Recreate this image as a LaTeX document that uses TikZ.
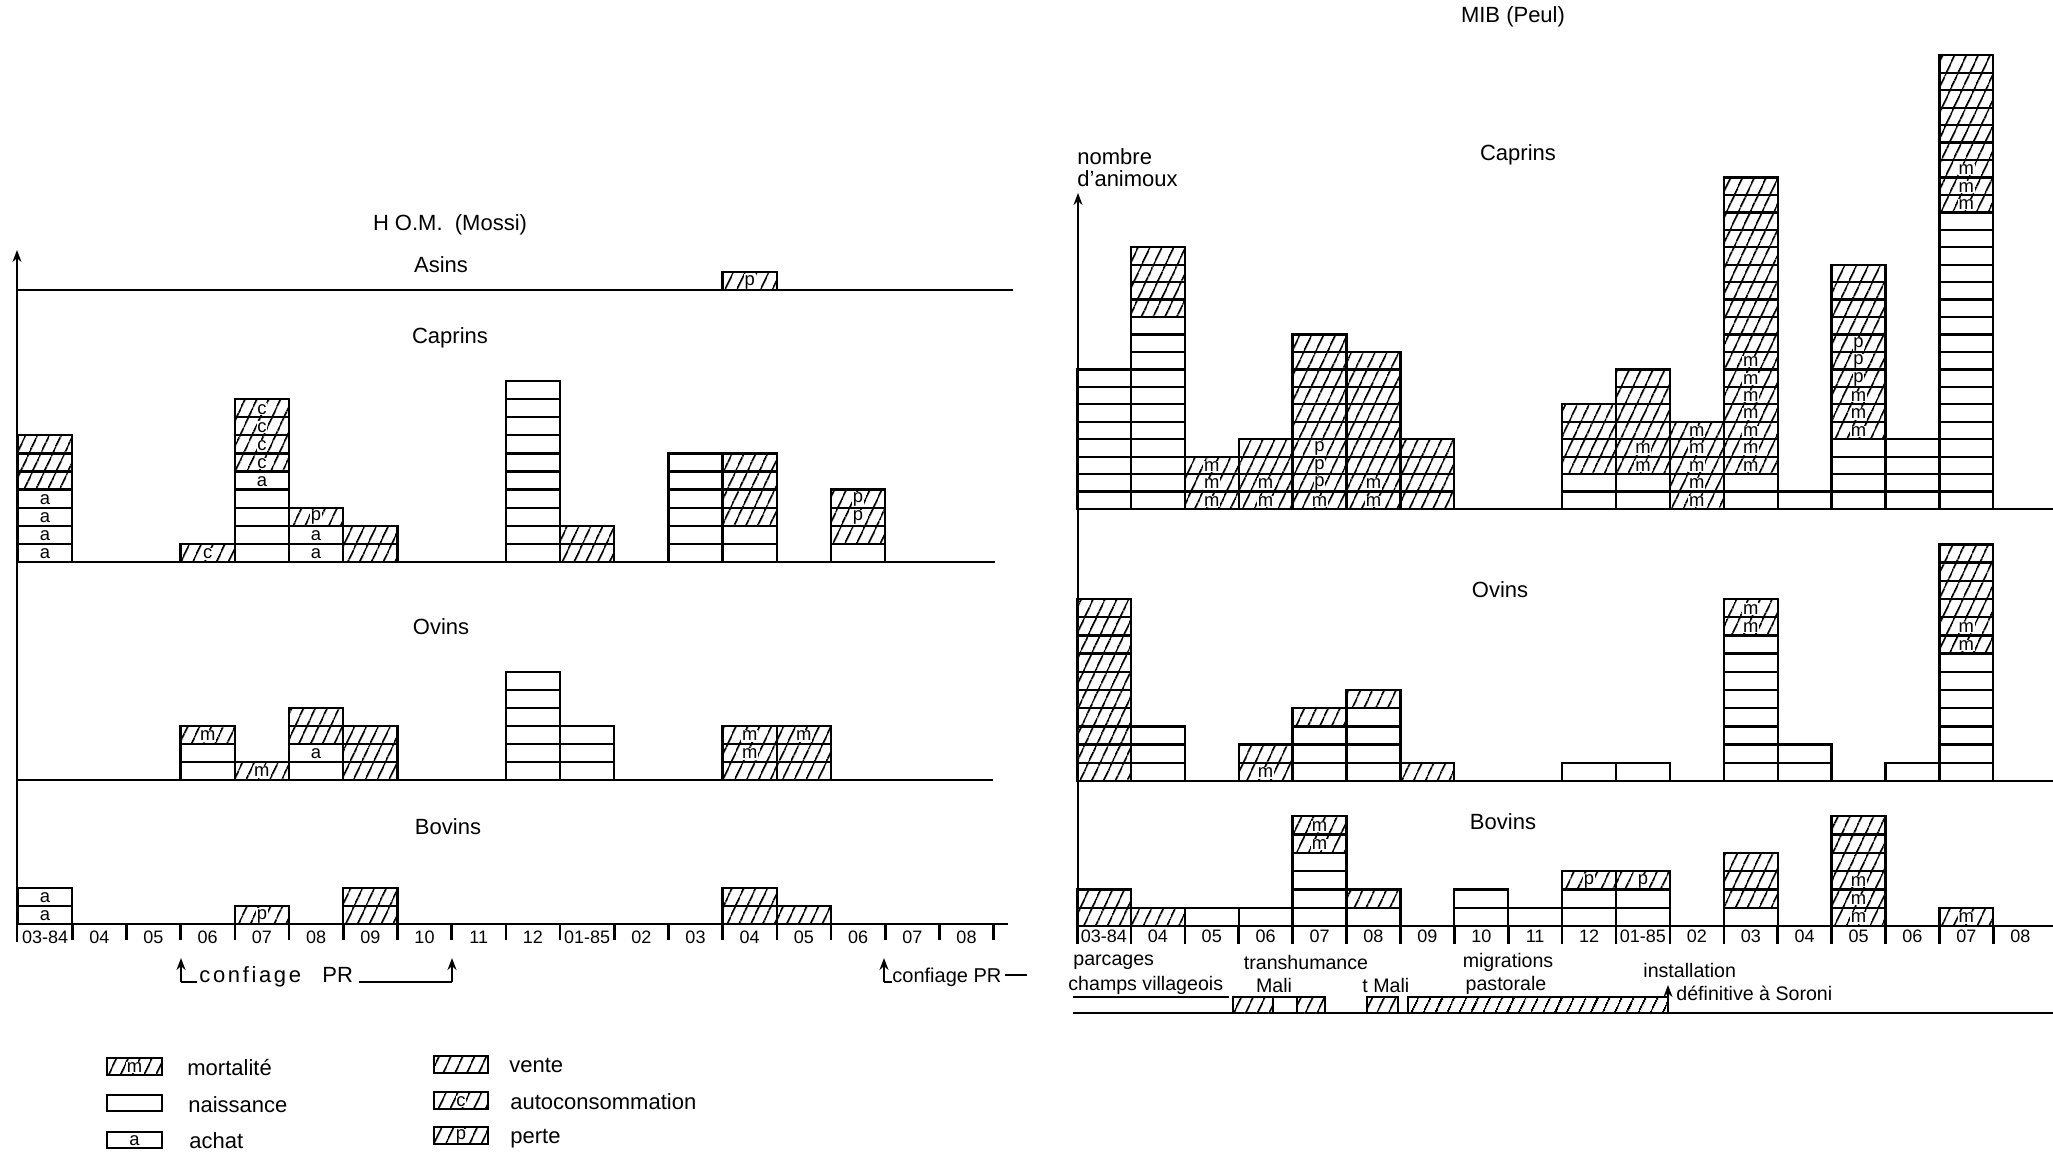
\documentclass[tikz,border=0pt]{standalone}
\usepackage{fontspec}
\setmainfont{Liberation Sans}
\newfontfamily\widefont[LetterSpace=12]{Liberation Sans}
\usetikzlibrary{patterns.meta,arrows.meta}
\tikzset{
  cellbox/.style={draw=black,line width=1.15pt},
  hatch/.style={pattern={Lines[angle=65,distance=5.4pt,line width=0.95pt]}},
  fillh/.style={hatch},
  filln/.style={},
  ltr/.style={inner sep=0.4pt,font=\fontsize{9.2}{9.2}\selectfont},
  ltrh/.style={ltr,fill=white},
  ltrn/.style={ltr},
  lab/.style={font=\fontsize{11}{13}\selectfont,inner sep=0pt},
  capt/.style={font=\fontsize{9.8}{11}\selectfont,inner sep=0pt},
  mon/.style={font=\fontsize{9}{10}\selectfont,inner sep=0pt},
  axisline/.style={line width=1.3pt},
  axisarrow/.style={line width=1.3pt,-{Stealth[length=6pt,width=4.5pt]}},
}
\newcount\ckzcnt
\newcommand\ckzn[4]{\draw[cellbox] (#1,#2) rectangle ++(#3,-#4);}
\newcommand\ckzv[4]{\path[hatch] (#1,#2) rectangle ++(#3,-#4);\draw[cellbox] (#1,#2) rectangle ++(#3,-#4);}
\newcommand\ckzlt[6]{%
  \global\advance\ckzcnt by 1
  \path[fill#6] (#1,#2) rectangle ++(#3,-#4);
  \pgfmathsetmacro\ckzcx{#1+#3/2}\pgfmathsetmacro\ckzcy{#2-#4/2+1}%
  \node[ltr#6] (cell\the\ckzcnt) at (\ckzcx,\ckzcy) {#5};
  \draw[cellbox] (#1,#2) rectangle ++(#3,-#4);}
\newcommand\ckza[4]{\ckzlt{#1}{#2}{#3}{#4}{a}{n}}
\newcommand\ckzm[4]{\ckzlt{#1}{#2}{#3}{#4}{m}{h}}
\newcommand\ckzp[4]{\ckzlt{#1}{#2}{#3}{#4}{p}{h}}
\newcommand\ckzc[4]{\ckzlt{#1}{#2}{#3}{#4}{c}{h}}
% x0, w, base, h, col, list
\newcommand\ckzstack[6]{%
  \foreach \t [count=\i from 0] in {#6} {%
    \pgfmathsetmacro\ckzxa{#1+#5*#2}%
    \pgfmathsetmacro\ckzya{#3-\i*#4}%
    \csname ckz\t\endcsname{\ckzxa}{\ckzya}{#2}{#4}%
  }}
\newcommand\Lc[2]{\ckzstack{18}{54.2}{562}{18.1}{#1}{#2}}
\newcommand\Lo[2]{\ckzstack{18}{54.2}{780}{18}{#1}{#2}}
\newcommand\Lb[2]{\ckzstack{18}{54.2}{924}{18}{#1}{#2}}
\newcommand\Rc[2]{\ckzstack{1077}{53.9}{509}{17.45}{#1}{#2}}
\newcommand\Ro[2]{\ckzstack{1077}{53.9}{781}{18.2}{#1}{#2}}
\newcommand\Rb[2]{\ckzstack{1077}{53.9}{926}{18.3}{#1}{#2}}
\begin{document}
\begin{tikzpicture}[x=0.5pt,y=-0.5pt]
\useasboundingbox (0,0) rectangle (2053,1153);

% ================= LEFT PANEL =================
\draw[axisline] (17,290) -- (1013,290);
\draw[axisline] (17,562) -- (995,562);
\draw[axisline] (17,780) -- (993,780);
\draw[axisline] (17,924) -- (1008,924);
\draw[axisarrow] (17,942) -- (17,250);

\node[lab] (hom) at (450,225) {H O.M.~~(Mossi)};
\node[lab] (asL) at (441,265) {Asins};
\node[lab] (capL) at (450,338) {Caprins};
\node[lab] (ovL) at (441,627) {Ovins};
\node[lab] (boL) at (448,827) {Bovins};

% Asins
\ckzstack{18}{54.2}{290}{18}{13}{p}
% Caprins
\Lc{0}{a,a,a,a,v,v,v}
\Lc{3}{c}
\Lc{4}{n,n,n,n,a,c,c,c,c}
\Lc{5}{a,a,p}
\Lc{6}{v,v}
\Lc{9}{n,n,n,n,n,n,n,n,n,n}
\Lc{10}{v,v}
\Lc{12}{n,n,n,n,n,n}
\Lc{13}{n,n,v,v,v,v}
\Lc{15}{n,v,p,p}
% Ovins
\Lo{3}{n,n,m}
\Lo{4}{m}
\Lo{5}{n,a,v,v}
\Lo{6}{v,v,v}
\Lo{9}{n,n,n,n,n,n}
\Lo{10}{n,n,n}
\Lo{13}{v,m,m}
\Lo{14}{v,v,m}
% Bovins
\Lb{0}{a,a}
\Lb{4}{p}
\Lb{6}{v,v}
\Lb{13}{v,v}
\Lb{14}{v}

% month axis (left)
\foreach \m [count=\i from 0] in {03-84,04,05,06,07,08,09,10,11,12,01-85,02,03,04,05,06,07,08} {
  \pgfmathsetmacro\ckzxa{18+(\i+0.5)*54.2}
  \node[mon] (lm\i) at (\ckzxa,937) {\m};
  \pgfmathsetmacro\ckzxa{18+(\i+1)*54.2}
  \draw[axisline] (\ckzxa,924) -- (\ckzxa,940);
}

% confiage PR brackets
\coordinate (ca1) at (181,982);
\coordinate (ca2) at (452,982);
\node[font=\widefont\fontsize{11}{13}\selectfont,inner sep=0pt,anchor=base west] (cf1) at (199,982) {confiage};
\node[font=\fontsize{11}{13}\selectfont,inner sep=0pt,anchor=base west] (cf1b) at (322,982) {PR};
\draw[axisarrow] (ca1) -- (181,958);
\draw[axisline] (ca1) -- ([xshift=-1pt]cf1.base west);
\draw[axisline] ([xshift=3pt]cf1b.base east) -- (ca2);
\draw[axisarrow] (ca2) -- (452,958);

\coordinate (ca3) at (884,982);
\draw[axisarrow] (ca3) -- (884,958);
\node[font=\fontsize{10}{12}\selectfont,inner sep=0pt,anchor=base west] (cf2) at (892,982) {confiage PR};
\draw[axisline] (ca3) -- (cf2.base west);
\draw[axisline] ([xshift=1.5pt,yshift=3.5pt]cf2.base east) -- ++(22,0);

% legend
\ckzm{107}{1075}{55}{17}
\ckzn{107}{1111}{55}{16}
\ckza{107}{1148}{55}{16}
\ckzv{434}{1073}{54}{17}
\ckzc{434}{1109}{54}{17}
\ckzp{434}{1144}{54}{17}
\node[lab,anchor=west] (lg1) at (187,1067) {mortalité};
\node[lab,anchor=west] (lg2) at (188,1105) {naissance};
\node[lab,anchor=west] (lg3) at (189,1141) {achat};
\node[lab,anchor=west] (lg4) at (509,1065) {vente};
\node[lab,anchor=west] (lg5) at (510,1102) {autoconsommation};
\node[lab,anchor=west] (lg6) at (510,1139) {perte};

% ================= RIGHT PANEL =================
\draw[axisline] (1077,509) -- (2053,509);
\draw[axisline] (1077,781) -- (2053,781);
\draw[axisline] (1077,926) -- (2053,926);
\draw[axisarrow] (1078,944) -- (1078,193);

\node[lab] (mib) at (1513,17) {MIB (Peul)};
\node[lab] (capR) at (1518,155) {Caprins};
\node[lab,anchor=west] (nb1) at (1077,157) {nombre};
\node[lab,anchor=west] (nb2) at (1077,179) {d'animoux};
\node[lab] (ovR) at (1500,590) {Ovins};
\node[lab] (boR) at (1503,822) {Bovins};

% Caprins
\Rc{0}{n,n,n,n,n,n,n,n}
\Rc{1}{n,n,n,n,n,n,n,n,n,n,n,v,v,v,v}
\Rc{2}{m,m,m}
\Rc{3}{m,m,v,v}
\Rc{4}{m,p,p,p,v,v,v,v,v,v}
\Rc{5}{m,m,v,v,v,v,v,v,v}
\Rc{6}{v,v,v,v}
\Rc{9}{n,n,v,v,v,v}
\Rc{10}{n,n,m,m,v,v,v,v}
\Rc{11}{m,m,m,m,m}
\Rc{12}{n,n,m,m,m,m,m,m,m,v,v,v,v,v,v,v,v,v,v}
\Rc{13}{n}
\Rc{14}{n,n,n,n,m,m,m,p,p,p,v,v,v,v}
\Rc{15}{n,n,n,n}
\Rc{16}{n,n,n,n,n,n,n,n,n,n,n,n,n,n,n,n,n,m,m,m,v,v,v,v,v,v}
% Ovins
\Ro{0}{v,v,v,v,v,v,v,v,v,v}
\Ro{1}{n,n,n}
\Ro{3}{m,v}
\Ro{4}{n,n,n,v}
\Ro{5}{n,n,n,n,v}
\Ro{6}{v}
\Ro{9}{n}
\Ro{10}{n}
\Ro{12}{n,n,n,n,n,n,n,n,m,m}
\Ro{13}{n,n}
\Ro{15}{n}
\Ro{16}{n,n,n,n,n,n,n,m,m,v,v,v,v}
% Bovins
\Rb{0}{v,v}
\Rb{1}{v}
\Rb{2}{n}
\Rb{3}{n}
\Rb{4}{n,n,n,n,m,m}
\Rb{5}{n,v}
\Rb{7}{n,n}
\Rb{8}{n}
\Rb{9}{n,n,p}
\Rb{10}{n,n,p}
\Rb{12}{n,v,v,v}
\Rb{14}{m,m,m,v,v,v}
\Rb{16}{m}

% month axis (right)
\foreach \m [count=\i from 0] in {03-84,04,05,06,07,08,09,10,11,12,01-85,02,03,04,05,06,07,08} {
  \pgfmathsetmacro\ckzxa{1077+(\i+0.5)*53.9}
  \node[mon] (rm\i) at (\ckzxa,936) {\m};
  \pgfmathsetmacro\ckzxa{1077+\i*53.9}
  \draw[axisline] (\ckzxa,926) -- (\ckzxa,944);
}

% timeline (right)
\node[capt,anchor=west] (t1) at (1073,962) {parcages};
\node[capt,anchor=west] (t2) at (1068,985) {champs villageois};
\node[capt] (t3) at (1306,962) {transhumance};
\node[capt] (t4) at (1274,985) {Mali};
\node[capt,anchor=west] (t5) at (1362,985) {t Mali};
\node[capt] (t6) at (1508,962) {migrations};
\node[capt] (t7) at (1506,985) {pastorale};
\node[capt,anchor=west] (t8) at (1643,970) {installation};
\node[capt,anchor=west] (t9) at (1676,993) {définitive à Soroni};

\draw[axisline] (1073,997) -- (1229,997);
\draw[axisline] (1073,1013) -- (2053,1013);
\path[hatch] (1233,997) rectangle (1273,1013);
\path[hatch] (1297,997) rectangle (1325,1013);
\draw[cellbox] (1233,1013) |- (1325,997) -- (1325,1013);
\draw[cellbox] (1273,997) -- (1273,1013) (1297,997) -- (1297,1013);
\draw[cellbox,hatch] (1367,997) rectangle (1398,1013);
\draw[cellbox,hatch] (1408,997) rectangle (1668,1013);
\draw[axisarrow] (1668,1013) -- (1668,985);

\end{tikzpicture}
\end{document}
